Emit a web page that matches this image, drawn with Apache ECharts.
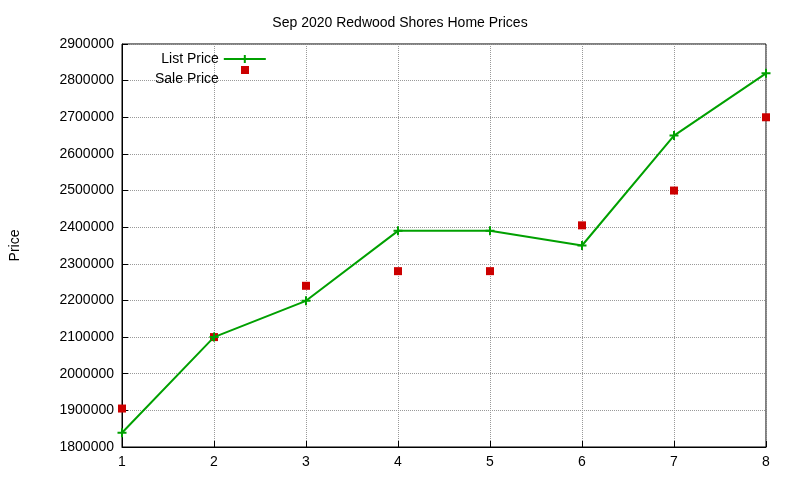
<!DOCTYPE html>
<html><head><meta charset="utf-8">
<script src="https://cdn.jsdelivr.net/npm/echarts@6/dist/echarts.min.js"></script>
<style>html,body{margin:0;padding:0;background:#fff}#c{width:800px;height:480px}</style>
</head><body><div id="c"></div>
<script>
const xValues = [1,2,3,4,5,6,7,8];
const listPrice = [1839000,2100000,2199000,2390000,2390000,2350000,2650000,2820000];
const salePrice = [1905000,2100000,2240000,2280000,2280000,2405000,2500000,2700000];
const chart = echarts.init(document.getElementById('c'));
const font = 'Liberation Sans, Arial, sans-serif';
const plus = 'path://M5,0L5,10M0,5L10,5';
chart.setOption({
  animation:false,
  textStyle:{fontFamily:font,color:'#000'},
  title:{text:'Sep 2020 Redwood Shores Home Prices',left:'center',top:11,textStyle:{fontSize:14,fontWeight:'normal',color:'#000',fontFamily:font}},
  legend:{orient:'vertical',left:150,top:47,align:'right',itemGap:6,itemWidth:42,itemHeight:10,
    textStyle:{fontSize:14,color:'#000',fontFamily:font},
    data:[{name:'List Price'},{name:'Sale Price',icon:'rect',itemStyle:{opacity:0}}]},
  graphic:[{type:'rect',left:241,top:66,shape:{width:8,height:8},style:{fill:'#cc0000'}}],
  grid:{left:118,right:34,top:44,bottom:33,show:true,borderColor:'#000',borderWidth:1},
  xAxis:{type:'value',min:1,max:8,interval:1,
    axisLine:{lineStyle:{color:'#000'}},axisTick:{inside:true,length:6,lineStyle:{color:'#000'}},
    axisLabel:{fontSize:14,color:'#000',margin:8,fontFamily:font},
    splitLine:{lineStyle:{type:'dotted',color:'#999'}}},
  yAxis:{type:'value',min:1800000,max:2900000,interval:100000,name:'Price',nameLocation:'middle',nameGap:100,nameRotate:90,
    nameTextStyle:{fontSize:14,color:'#000',fontFamily:font},
    axisLine:{show:true,lineStyle:{color:'#000'}},axisTick:{show:true,inside:true,length:6,lineStyle:{color:'#000'}},
    axisLabel:{fontSize:14,color:'#000',margin:8,fontFamily:font,formatter:v=>String(v)},
    splitLine:{lineStyle:{type:'dotted',color:'#999'}}},
  series:[
    {name:'List Price',type:'line',data:xValues.map((x,i)=>[x,listPrice[i]]),
     symbol:plus,symbolSize:9,showAllSymbol:true,
     lineStyle:{color:'#00a000',width:2},itemStyle:{color:'#00a000',borderColor:'#00a000',borderWidth:2}},
    {name:'Sale Price',type:'scatter',data:xValues.map((x,i)=>[x,salePrice[i]]),
     symbol:'rect',symbolSize:8,itemStyle:{color:'#cc0000',opacity:1}}
  ]
});
</script></body></html>
